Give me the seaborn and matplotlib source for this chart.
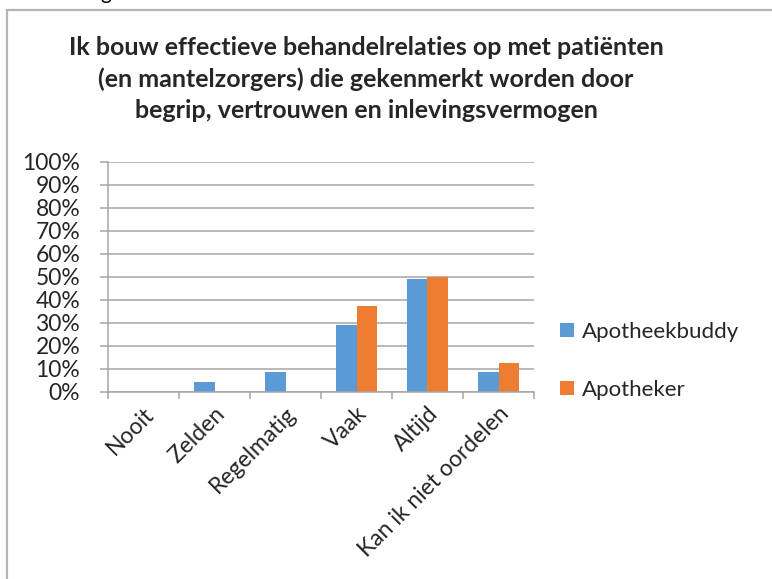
import pandas as pd
import matplotlib.pyplot as plt
import seaborn as sns
from matplotlib.patches import Patch, Rectangle

# Chart data
categories = ["Nooit", "Zelden", "Regelmatig", "Vaak", "Altijd", "Kan ik niet oordelen"]
series_names = ["Apotheekbuddy", "Apotheker"]
apotheekbuddy = [0.0, 0.044, 0.089, 0.289, 0.489, 0.089]
apotheker = [0.0, 0.0, 0.0, 0.375, 0.50, 0.125]
yticks = [0, 0.1, 0.2, 0.3, 0.4, 0.5, 0.6, 0.7, 0.8, 0.9, 1.0]
ytick_labels = ["0%", "10%", "20%", "30%", "40%", "50%", "60%", "70%", "80%", "90%", "100%"]
title_lines = ["Ik bouw effectieve behandelrelaties op met patiënten",
               "(en mantelzorgers) die gekenmerkt worden door",
               "begrip, vertrouwen en inlevingsvermogen"]

colors = ["#5B9BD5", "#ED7D31"]
grid_col = "#a6a6a6"

df = pd.DataFrame({
    "cat": categories * 2,
    "series": [series_names[0]] * len(categories) + [series_names[1]] * len(categories),
    "val": apotheekbuddy + apotheker,
})

sns.set_style("white")
plt.rcParams["font.family"] = ["Lato", "DejaVu Sans"]

W, H = 772, 579
fig = plt.figure(figsize=(W / 100, H / 100), dpi=100)

# outer chart frame (runs off the right/bottom edge)
fig.patches.append(Rectangle((7 / W, -0.2), 1.2, 1.2 - 10 / H, transform=fig.transFigure,
                             fill=False, edgecolor="#b4b4b4", linewidth=1.6))
# cut-off text fragment above the frame (as in the source screenshot)
fig.text(100 / W, 1 + 1 / H, "g", fontsize=15, va="baseline", ha="left", color="black")

ax = fig.add_axes([108 / W, 1 - 392 / H, 426 / W, 230.3 / H])
sns.barplot(data=df, x="cat", y="val", hue="series", palette=colors, width=0.58,
            saturation=1, errorbar=None, linewidth=0, legend=False, ax=ax)

ax.set_ylim(0, 1)
ax.set_xlim(-0.5, len(categories) - 0.5)
ax.set_yticks(yticks)
ax.set_yticklabels(ytick_labels, fontsize=16.5)
ax.yaxis.grid(True, color=grid_col, linewidth=1.1)
ax.set_axisbelow(True)
ax.set_xlabel("")
ax.set_ylabel("")

for s in ["top", "right"]:
    ax.spines[s].set_visible(False)
for s in ["left", "bottom"]:
    ax.spines[s].set_color(grid_col)
    ax.spines[s].set_linewidth(1.1)

ax.tick_params(axis="y", length=6, width=1.1, color=grid_col, pad=14, left=True)
# category boundary ticks on x-axis
ax.set_xticks([i - 0.5 for i in range(len(categories) + 1)], minor=True)
ax.tick_params(axis="x", which="minor", length=5, width=1.1, color=grid_col, bottom=True)
ax.tick_params(axis="x", which="major", length=0, pad=8)
ax.set_xticks(range(len(categories)))
ax.set_xticklabels(categories, rotation=45, ha="right", va="top",
                   rotation_mode="anchor", fontsize=16.5)

# title, one line at a time
for line, base in zip(title_lines, [55, 87, 118]):
    fig.text(366 / W, 1 - base / H, line, ha="center", va="baseline",
             fontsize=18, fontweight="bold")

handles = [Patch(facecolor=c, edgecolor="none") for c in colors]
fig.legend(handles, series_names, loc="center left", bbox_to_anchor=(560 / W, 1 - 361 / H),
           frameon=False, fontsize=16, handlelength=0.62, handleheight=0.62,
           handletextpad=0.35, labelspacing=1.7, borderpad=0, borderaxespad=0)

plt.savefig("out.png", dpi=100)
